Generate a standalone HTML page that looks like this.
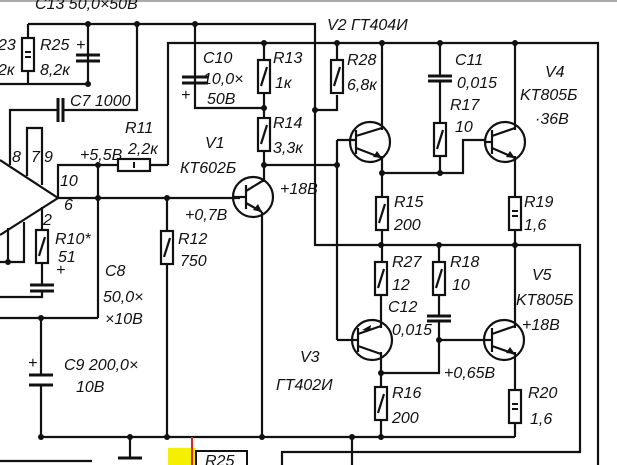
<!DOCTYPE html>
<html><head><meta charset="utf-8"><style>
html,body{margin:0;padding:0;background:#fff;}
svg{display:block}
text{font-family:"Liberation Sans",sans-serif;font-style:italic;font-size:16px;fill:#111;}
</style></head><body>
<svg width="617" height="465" viewBox="0 0 617 465" xmlns="http://www.w3.org/2000/svg">
<defs>
<g id="res"><rect x="-6" y="0" width="12" height="33" fill="#fff" stroke="#111" stroke-width="2.2"/><line x1="-3" y1="26" x2="3" y2="7" stroke="#111" stroke-width="2.2"/></g>
<g id="resb"><rect x="-6" y="0" width="12" height="33" fill="#fff" stroke="#111" stroke-width="2.2"/><line x1="-3" y1="14" x2="3" y2="14" stroke="#111" stroke-width="2"/><line x1="-3" y1="19" x2="3" y2="19" stroke="#111" stroke-width="2"/></g>
</defs>
<rect x="0" y="0" width="617" height="2" fill="#aaa"/>
<g stroke="#111" stroke-width="2.2" fill="none">
<polyline points="28,24 315,24 315,245 580,245 580,452 282,452 282,465"/>
<polyline points="168,165 168,43 598,43 598,465"/>
<polyline points="315,110 337,110 337,95"/>
<line x1="337" y1="43" x2="337" y2="60"/>
<line x1="28" y1="24" x2="28" y2="38"/><line x1="28" y1="70" x2="28" y2="84"/>
<polyline points="0,84 88,84 88,24"/>
<polyline points="137,24 137,110 62,110"/><polyline points="58,110 10,110 10,165"/>
<polyline points="195,24 195,108 264,108"/>
<line x1="264" y1="43" x2="264" y2="60"/><line x1="264" y1="93" x2="264" y2="118"/><line x1="264" y1="151" x2="264" y2="182"/>
<polyline points="264,165 337,165"/><line x1="337" y1="140" x2="337" y2="340"/><line x1="337" y1="140" x2="356" y2="140"/>
<polyline points="168,165 150,165"/><polyline points="118,165 58,165 58,198"/>
<line x1="58" y1="198" x2="240" y2="198"/>
<line x1="98" y1="165" x2="98" y2="318"/><polyline points="98,318 0,318"/>
<line x1="167" y1="198" x2="167" y2="231"/><line x1="167" y1="264" x2="167" y2="437"/>
<polyline points="0,160 58,198 0,235"/>
<polyline points="27,176 27,128 42,128 42,185"/>
<line x1="42" y1="207" x2="42" y2="230"/><line x1="42" y1="263" x2="42" y2="285"/><polyline points="42,292 42,297 0,297"/>
<polyline points="24,222 24,262 0,262"/><line x1="8" y1="228" x2="8" y2="262"/>
<line x1="41" y1="318" x2="41" y2="375"/><line x1="41" y1="385" x2="41" y2="437"/>
<line x1="41" y1="437" x2="515" y2="437"/>
<line x1="130" y1="437" x2="130" y2="458"/><line x1="118" y1="458" x2="142" y2="458" stroke-width="3"/>
<line x1="262" y1="212" x2="262" y2="437"/>
<line x1="352" y1="437" x2="352" y2="465"/>
<line x1="0" y1="461" x2="92" y2="461"/>
<line x1="382" y1="43" x2="382" y2="130"/><line x1="382" y1="156" x2="382" y2="197"/><line x1="382" y1="230" x2="382" y2="262"/>
<polyline points="382,173 463,173 463,140 485,140"/>
<line x1="440" y1="43" x2="440" y2="76"/><line x1="440" y1="82" x2="440" y2="123"/><line x1="440" y1="156" x2="440" y2="173"/>
<line x1="515" y1="43" x2="515" y2="130"/><line x1="515" y1="156" x2="515" y2="197"/><line x1="515" y1="230" x2="515" y2="328"/>
<line x1="381" y1="295" x2="381" y2="328"/><line x1="381" y1="352" x2="381" y2="387"/><line x1="381" y1="420" x2="381" y2="437"/>
<polyline points="381,373 439,373 439,321"/><line x1="439" y1="245" x2="439" y2="262"/><line x1="439" y1="295" x2="439" y2="316"/>
<line x1="337" y1="340" x2="354" y2="340"/><line x1="439" y1="340" x2="486" y2="340"/>
<line x1="515" y1="352" x2="515" y2="390"/><line x1="515" y1="422" x2="515" y2="437"/>
<g stroke-width="3">
<line x1="76" y1="55" x2="100" y2="55"/><line x1="76" y1="61" x2="100" y2="61"/>
<line x1="58" y1="98" x2="58" y2="122"/><line x1="63" y1="98" x2="63" y2="122"/>
<line x1="182" y1="77" x2="208" y2="77"/><line x1="182" y1="83" x2="208" y2="83"/>
<line x1="428" y1="76" x2="452" y2="76"/><line x1="428" y1="81" x2="452" y2="81"/>
<line x1="427" y1="316" x2="451" y2="316"/><line x1="427" y1="321" x2="451" y2="321"/>
<line x1="30" y1="285" x2="54" y2="285"/><line x1="30" y1="291" x2="54" y2="291"/>
<line x1="29" y1="375" x2="53" y2="375"/><line x1="29" y1="385" x2="53" y2="385"/>
</g>
<circle cx="253" cy="197" r="20"/><line x1="246" y1="185" x2="246" y2="209"/><line x1="233" y1="197" x2="246" y2="197"/><line x1="246" y1="191" x2="264" y2="180"/><line x1="246" y1="203" x2="262" y2="212"/>
<circle cx="370" cy="142" r="20"/><line x1="356" y1="130" x2="356" y2="154"/><line x1="356" y1="136" x2="382" y2="128"/><line x1="356" y1="148" x2="382" y2="158"/>
<circle cx="505" cy="142" r="20"/><line x1="492" y1="130" x2="492" y2="154"/><line x1="485" y1="142" x2="492" y2="142"/><line x1="492" y1="136" x2="515" y2="128"/><line x1="492" y1="148" x2="515" y2="158"/>
<circle cx="372" cy="340" r="20"/><line x1="358" y1="328" x2="358" y2="352"/><line x1="354" y1="340" x2="358" y2="340"/><line x1="358" y1="334" x2="381" y2="326"/><line x1="358" y1="346" x2="381" y2="354"/>
<circle cx="504" cy="340" r="20"/><line x1="492" y1="328" x2="492" y2="352"/><line x1="486" y1="340" x2="492" y2="340"/><line x1="492" y1="334" x2="515" y2="326"/><line x1="492" y1="346" x2="515" y2="354"/>
</g>
<g fill="#111">
<path d="M262,212 l-9,-2 l5,-6z"/><path d="M382,158 l-9,-1 l4,-6z"/><path d="M515,158 l-9,-1 l4,-6z"/><path d="M362,330 l9,-5 l-1,6z"/><path d="M515,354 l-9,-1 l4,-6z"/>
<circle cx="88" cy="24" r="3"/><circle cx="137" cy="24" r="3"/><circle cx="195" cy="24" r="3"/><circle cx="88" cy="84" r="3"/>
<circle cx="264" cy="43" r="3"/><circle cx="337" cy="43" r="3"/><circle cx="382" cy="43" r="3"/><circle cx="440" cy="43" r="3"/><circle cx="515" cy="43" r="3"/>
<circle cx="264" cy="108" r="3"/><circle cx="264" cy="165" r="3"/><circle cx="337" cy="165" r="3"/><circle cx="315" cy="110" r="3"/>
<circle cx="98" cy="165" r="3"/><circle cx="98" cy="198" r="3"/><circle cx="167" cy="198" r="3"/><circle cx="41" cy="318" r="3"/><circle cx="8" cy="262" r="3"/>
<circle cx="382" cy="173" r="3"/><circle cx="440" cy="173" r="3"/><circle cx="381" cy="245" r="3"/><circle cx="439" cy="245" r="3"/><circle cx="515" cy="245" r="3"/>
<circle cx="439" cy="340" r="3"/><circle cx="381" cy="373" r="3"/>
<circle cx="41" cy="437" r="3"/><circle cx="130" cy="437" r="3"/><circle cx="167" cy="437" r="3"/><circle cx="262" cy="437" r="3"/><circle cx="352" cy="437" r="3"/><circle cx="381" cy="437" r="3"/>
</g>
<use href="#resb" x="28" y="38"/>
<use href="#res" x="264" y="60"/><use href="#res" x="264" y="118"/><use href="#res" x="337" y="60"/>
<use href="#res" x="440" y="123"/><use href="#res" x="382" y="197"/><use href="#resb" x="515" y="197"/>
<use href="#res" x="381" y="262"/><use href="#res" x="439" y="262"/><use href="#res" x="381" y="387"/><use href="#resb" x="515" y="390"/>
<use href="#res" x="167" y="231"/><use href="#res" x="42" y="230"/>
<rect x="118" y="159" width="32" height="12" fill="#fff" stroke="#111" stroke-width="2.2"/><line x1="134" y1="162" x2="134" y2="168" stroke="#111" stroke-width="2"/>
<rect x="168" y="448" width="28" height="17" fill="#f5f000"/>
<line x1="192" y1="437" x2="192" y2="465" stroke="#d22" stroke-width="2"/>
<polyline points="196,465 196,451 247,451 247,465" fill="none" stroke="#111" stroke-width="2"/>
<text x="205" y="466" font-size="12">R25</text>
<text x="35" y="9">C13 50,0×50B</text>
<text x="-2" y="50">23</text><text x="-2" y="75">2к</text>
<text x="40" y="50">R25</text><text x="40" y="75">8,2к</text><text x="76" y="50">+</text>
<text x="70" y="106">C7 1000</text>
<text x="203" y="63">C10</text><text x="203" y="84">10,0×</text><text x="207" y="104">50B</text><text x="181" y="100">+</text>
<text x="273" y="63">R13</text><text x="275" y="88">1к</text><text x="273" y="128">R14</text><text x="273" y="153">3,3к</text>
<text x="327" y="30">V2  ГТ404И</text>
<text x="347" y="65">R28</text><text x="347" y="90">6,8к</text>
<text x="455" y="65">C11</text><text x="457" y="88">0,015</text><text x="450" y="110">R17</text><text x="455" y="132">10</text>
<text x="545" y="77">V4</text><text x="520" y="100">KT805Б</text><text x="535" y="124">·36B</text>
<text x="205" y="148">V1</text><text x="180" y="173">КТ602Б</text><text x="280" y="194">+18B</text><text x="185" y="220">+0,7B</text>
<text x="125" y="133">R11</text><text x="128" y="154">2,2к</text><text x="80" y="160">+5,5B</text>
<text x="12" y="162" font-size="14">8</text><text x="31" y="162" font-size="14">7</text><text x="44" y="162" font-size="14">9</text>
<text x="60" y="186">10</text><text x="64" y="210" font-size="13">6</text><text x="43" y="225" font-size="14">2</text>
<text x="55" y="244">R10*</text><text x="58" y="262">51</text><text x="56" y="275">+</text>
<text x="178" y="244">R12</text><text x="180" y="266">750</text>
<text x="105" y="276">C8</text><text x="103" y="302">50,0×</text><text x="105" y="324">×10B</text>
<text x="64" y="370">C9  200,0×</text><text x="76" y="392">10B</text><text x="28" y="368">+</text>
<text x="394" y="207">R15</text><text x="394" y="230">200</text>
<text x="524" y="207">R19</text><text x="524" y="230">1,6</text>
<text x="392" y="267">R27</text><text x="392" y="290">12</text><text x="450" y="267">R18</text><text x="452" y="290">10</text>
<text x="388" y="312">C12</text><text x="392" y="335">0,015</text>
<text x="532" y="280">V5</text><text x="516" y="305">KT805Б</text><text x="522" y="330">+18B</text>
<text x="444" y="378">+0,65B</text>
<text x="300" y="362">V3</text><text x="276" y="390">ГТ402И</text>
<text x="392" y="398">R16</text><text x="392" y="423">200</text>
<text x="528" y="398">R20</text><text x="530" y="424">1,6</text>
</svg>
</body></html>
